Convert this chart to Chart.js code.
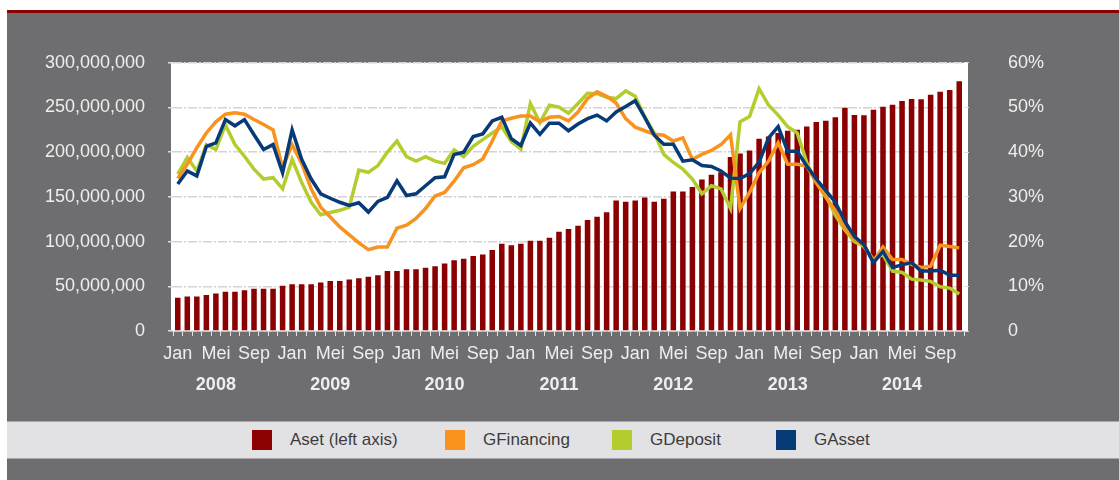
<!DOCTYPE html>
<html lang="id">
<head>
<meta charset="UTF-8">
<title>Aset dan Pertumbuhan</title>
<script src="https://cdn.jsdelivr.net/npm/chart.js"></script>
<style>
  body { margin: 0; background: #fff; font-family: 'Liberation Sans', Arial, sans-serif; }
  #frame { position: absolute; left: 7px; top: 10px; width: 1112px; height: 470px; background: #6e6e70; border-top: 3px solid #8b0000; box-sizing: border-box; }
  #chart { position: absolute; left: 0; top: 0; }
  #legend { position: absolute; left: 0; top: 408px; width: 1112px; height: 38px; background: #e2e2e4; border-top: 1px solid #a8a8aa; border-bottom: 1px solid #a8a8aa; box-sizing: border-box; }
  .item { position: absolute; top: 8px; height: 20px; }
  .box { position: absolute; left: 0; top: 0; width: 20px; height: 20px; }
  .lbl { position: absolute; left: 38px; top: 0; line-height: 20px; font-size: 17px; color: #3c3c3c; white-space: nowrap; }
</style>
</head>
<body>
<div id="frame">
  <canvas id="chart" width="1112" height="407"></canvas>
  <div id="legend"></div>
</div>

<script>
// bulan dan tahun (Jan 2008 - Nov 2014)
const monthNames = ['Jan', 'Feb', 'Mar', 'Apr', 'Mei', 'Jun', 'Jul', 'Agu', 'Sep', 'Okt', 'Nov', 'Des'];
const years = ['2008', '2009', '2010', '2011', '2012', '2013', '2014'];
const monthCount = 83;

// Aset (juta), sumbu kiri
const aset = [
  37.1, 38.5, 38.5, 40.4, 42.0, 43.8, 43.8, 45.5, 47.2, 47.2, 47.2, 50.5,
  52.3, 52.3, 52.3, 54.2, 56.0, 56.0, 57.6, 59.1, 60.6, 62.4, 67.2, 67.2,
  69.0, 69.0, 70.8, 72.3, 75.6, 79.0, 80.7, 84.0, 85.5, 90.7, 97.6, 95.8,
  97.6, 101.0, 101.0, 104.2, 110.9, 114.2, 117.8, 124.1, 127.8, 132.9, 146.1, 144.6,
  146.1, 149.4, 144.6, 147.9, 156.0, 156.0, 161.1, 169.6, 174.8, 177.7, 194.6, 198.6,
  201.9, 215.1, 217.7, 221.4, 223.9, 225.0, 228.7, 233.8, 235.3, 239.0, 249.7, 241.5,
  241.2, 247.5, 250.8, 253.0, 257.4, 259.6, 259.2, 264.3, 267.6, 269.5, 279.4
];

// pertumbuhan (%), sumbu kanan
const gFinancing = [
  34.1, 37.3, 41.0, 44.3, 46.8, 48.5, 48.8, 48.5, 47.3, 46.2, 45.0, 36.5,
  41.7, 37.5, 31.8, 27.7, 25.5, 23.3, 21.5, 19.7, 18.2, 18.8, 18.8, 23.0,
  23.7, 25.2, 27.4, 30.2, 31.0, 33.5, 36.5, 37.2, 38.5, 42.5, 47.0, 47.6,
  48.1, 48.1, 46.8, 47.8, 48.0, 47.0, 49.0, 52.0, 53.5, 52.5, 51.0, 47.5,
  45.6, 44.8, 44.0, 43.8, 42.5, 43.2, 38.4, 39.5, 40.4, 41.7, 43.9, 27.4,
  31.0, 35.4, 38.0, 42.1, 37.3, 37.3, 36.9, 33.2, 29.9, 27.0, 23.0, 20.4,
  19.3, 15.6, 18.8, 16.0, 16.0, 14.9, 14.2, 14.5, 19.2, 18.9, 18.6
];

const gDeposit = [
  35.1, 38.8, 35.8, 41.7, 40.6, 46.1, 41.7, 39.1, 36.2, 34.0, 34.3, 31.8,
  38.4, 33.2, 28.8, 26.0, 26.5, 27.0, 27.7, 36.0, 35.5, 37.0, 40.0, 42.5,
  39.0, 38.0, 39.0, 38.0, 37.5, 40.5, 39.0, 41.3, 42.8, 44.3, 45.7, 42.4,
  40.7, 50.9, 46.6, 50.5, 50.1, 48.7, 50.9, 53.2, 53.1, 52.3, 52.0, 53.7,
  52.5, 47.9, 44.3, 39.5, 37.7, 36.2, 34.0, 30.7, 32.5, 31.8, 27.4, 46.8,
  48.0, 54.2, 50.5, 48.3, 45.7, 44.3, 37.7, 33.2, 30.3, 25.9, 22.6, 20.0,
  18.9, 16.0, 17.1, 13.4, 13.1, 11.6, 11.4, 11.1, 9.9, 9.6, 8.3
];

const gAsset = [
  32.9, 35.8, 34.7, 41.3, 42.1, 47.3, 45.9, 47.3, 43.9, 40.6, 41.7, 35.4,
  45.0, 38.4, 34.0, 30.7, 29.7, 28.8, 28.1, 28.7, 26.6, 29.0, 29.9, 33.6,
  30.3, 30.7, 32.5, 34.3, 34.5, 39.5, 40.0, 43.5, 44.1, 47.0, 47.8, 43.0,
  41.5, 46.5, 44.0, 46.5, 46.5, 44.8, 46.3, 47.5, 48.3, 47.0, 49.0, 50.2,
  51.5, 47.8, 43.8, 41.8, 41.8, 38.0, 38.3, 37.0, 36.8, 35.8, 34.2, 34.1,
  35.2, 37.8, 43.2, 45.7, 40.2, 40.2, 36.9, 34.0, 31.4, 28.8, 24.5, 21.1,
  19.3, 15.3, 17.8, 14.2, 14.8, 15.3, 13.4, 13.4, 13.6, 12.5, 12.5
];

const seriesNames = ['Aset (left axis)', 'GFinancing', 'GDeposit', 'GAsset'];
const seriesColors = ['#8b0000', '#f7931e', '#b4cc2e', '#063b78'];

// label kategori
const labels = [];
for (let i = 0; i < monthCount; i++) {
  labels.push(monthNames[i % 12] + ' ' + years[Math.floor(i / 12)]);
}

const fontFamily = "'Liberation Sans', Arial, sans-serif";
const tickColor = '#eeeeee';

// latar putih area plot
const plotBg = {
  id: 'plotBg',
  beforeDraw(chart) {
    const a = chart.chartArea, ctx = chart.ctx;
    ctx.save();
    ctx.fillStyle = '#ffffff';
    ctx.fillRect(a.left - 2, a.top, a.right - a.left + 6, a.bottom - a.top);
    ctx.restore();
  }
};

const ctx = document.getElementById('chart').getContext('2d');
new Chart(ctx, {
  type: 'bar',
  data: {
    labels: labels,
    datasets: [
      { type: 'line', label: seriesNames[2], data: gDeposit, yAxisID: 'y1', borderColor: seriesColors[2], borderWidth: 3.5, pointRadius: 0, tension: 0, order: 3 },
      { type: 'line', label: seriesNames[1], data: gFinancing, yAxisID: 'y1', borderColor: seriesColors[1], borderWidth: 3.5, pointRadius: 0, tension: 0, order: 2 },
      { type: 'line', label: seriesNames[3], data: gAsset, yAxisID: 'y1', borderColor: seriesColors[3], borderWidth: 3.5, pointRadius: 0, tension: 0, order: 1 },
      { type: 'bar', label: seriesNames[0], data: aset, yAxisID: 'y', backgroundColor: seriesColors[0], categoryPercentage: 1, barPercentage: 0.58, order: 4 }
    ]
  },
  options: {
    responsive: false,
    animation: false,
    layout: { padding: { top: 45.5, left: 0, right: 0, bottom: 0 } },
    plugins: { legend: { display: false }, tooltip: { enabled: false } },
    scales: {
      x: {
        type: 'category',
        offset: true,
        grid: { offset: true, drawOnChartArea: false, tickLength: 5, color: '#e0e0e0', lineWidth: 1 },
        border: { color: '#f0f0f0', width: 1.5 },
        ticks: {
          autoSkip: false, maxRotation: 0, padding: 7, color: tickColor,
          font: { family: fontFamily, size: 18 },
          callback: (v, i) => (i % 4 === 0 ? monthNames[i % 12] : '')
        },
        afterFit(s) { s.height = 34; }
      },
      x2: {
        type: 'category',
        position: 'bottom',
        offset: true,
        labels: labels,
        grid: { display: false, drawTicks: false },
        border: { display: false },
        ticks: {
          autoSkip: false, maxRotation: 0, padding: 9, color: tickColor,
          font: { family: fontFamily, size: 18, weight: 'bold' },
          callback: (v, i) => (i % 12 === 4 ? years[Math.floor(i / 12)] : '')
        },
        afterFit(s) { s.height = 55; }
      },
      y: {
        position: 'left',
        min: 0, max: 300,
        grid: { color: '#d4d4d4', lineWidth: 1.5, tickLength: 5, tickColor: '#dddddd', tickBorderDash: [] },
        border: { display: false, dash: [9, 2, 2, 2] },
        ticks: {
          stepSize: 50, padding: 23, color: tickColor,
          font: { family: fontFamily, size: 18 },
          callback: v => (v * 1000000).toLocaleString('en-US')
        },
        afterFit(s) { s.width = 166; }
      },
      y1: {
        position: 'right',
        min: 0, max: 60,
        grid: { drawOnChartArea: false, tickLength: 5, color: '#dddddd' },
        border: { display: false },
        ticks: {
          stepSize: 10, padding: 39, color: tickColor,
          font: { family: fontFamily, size: 18 },
          callback: v => (v === 0 ? '0' : v + '%')
        },
        afterFit(s) { s.width = 155; }
      }
    }
  },
  plugins: [plotBg]
});

// legenda
const legendLeft = [245, 438, 605, 769];
const legend = document.getElementById('legend');
seriesNames.forEach((name, i) => {
  const item = document.createElement('div');
  item.className = 'item';
  item.style.left = legendLeft[i] + 'px';
  item.innerHTML = '<div class="box" style="background:' + seriesColors[i] + '"></div><div class="lbl">' + name + '</div>';
  legend.appendChild(item);
});
</script>
</body>
</html>
